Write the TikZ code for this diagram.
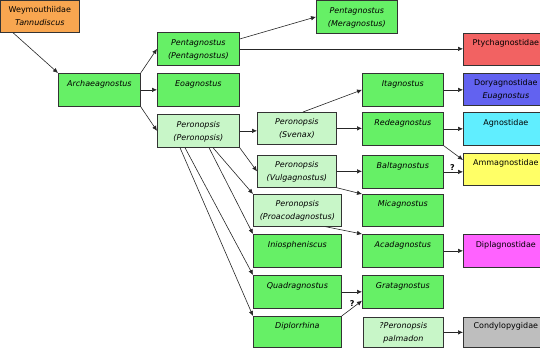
\documentclass[tikz,border=0pt]{standalone}
\usepackage{fontspec}
\setmainfont{DejaVu Sans}
\usetikzlibrary{arrows.meta}
\definecolor{gnbright}{RGB}{102,240,102}
\definecolor{gnlight}{RGB}{200,246,200}
\definecolor{orng}{RGB}{248,166,80}
\definecolor{fred}{RGB}{242,98,98}
\definecolor{fblue}{RGB}{98,98,240}
\definecolor{fcyan}{RGB}{96,238,255}
\definecolor{fyellow}{RGB}{255,255,102}
\definecolor{fmag}{RGB}{255,98,255}
\definecolor{fgray}{RGB}{190,190,190}
% two text lines, set at the top of a box
\newcommand{\tx}[2]{\vbox to 25pt{\hbox{\begin{tabular}[t]{@{}c@{}}#1\\#2\end{tabular}}\vss}}
\begin{document}
\begin{tikzpicture}[x=1pt,y=-1pt,
  every node/.style={font=\fontsize{8}{13}\selectfont},
  bx/.style={draw=black!80,line width=0.7pt,inner sep=0pt,anchor=north west,minimum width=81pt,minimum height=33pt},
  gn/.style={bx,fill=gnbright},
  lg/.style={bx,fill=gnlight},
  fam/.style={bx,minimum width=85pt},
  ar/.style={draw=black!85,line width=0.6pt,-{Latex[length=5pt,width=4.5pt]}},
  qm/.style={font=\fontsize{8}{10}\selectfont\bfseries,inner sep=1pt}]
\useasboundingbox (0,0) rectangle (540,350);
%------------- columns 1 and 2
\node[bx,fill=orng,minimum width=79pt,minimum height=32pt] (wey) at (0,0) {\tx{Weymouthiidae}{\textit{Tannudiscus}}};
\node[gn,minimum width=82pt] (arch) at (58,73) {\tx{\textit{Archaeagnostus}}{}};
%------------- column 3
\node[gn,minimum width=82pt] (penta) at (157,32) {\tx{\textit{Pentagnostus}}{\textit{(Pentagnostus)}}};
\node[gn,minimum width=82pt] (eoag) at (157,73) {\tx{\textit{Eoagnostus}}{}};
\node[lg,minimum width=82pt] (peroP) at (157,114) {\tx{\textit{Peronopsis}}{\textit{(Peronopsis)}}};
%------------- column 4
\node[gn] (mera) at (316,0) {\tx{\textit{Pentagnostus}}{\textit{(Meragnostus)}}};
\node[lg,minimum width=79pt,minimum height=32pt] (svenax) at (257,112) {\tx{\textit{Peronopsis}}{\textit{(Svenax)}}};
\node[lg,minimum width=79pt,minimum height=32pt] (vulg) at (257,155) {\tx{\textit{Peronopsis}}{\textit{(Vulgagnostus)}}};
\node[lg,minimum width=88pt,minimum height=32pt] (proac) at (253,194) {\tx{\textit{Peronopsis}}{\textit{(Proacodagnostus)}}};
\node[gn,minimum width=88pt] (inio) at (253,234) {\tx{\textit{Iniospheniscus}}{}};
\node[gn,minimum width=88pt] (quad) at (253,275) {\tx{\textit{Quadragnostus}}{}};
\node[gn,minimum width=88pt,minimum height=31pt] (dipl) at (253,316) {\tx{\textit{Diplorrhina}}{}};
%------------- column 5
\node[gn] (itag) at (362,73) {\tx{\textit{Itagnostus}}{}};
\node[gn] (redea) at (362,112) {\tx{\textit{Redeagnostus}}{}};
\node[gn] (balt) at (362,155) {\tx{\textit{Baltagnostus}}{}};
\node[gn,minimum height=32pt] (micag) at (362,194) {\tx{\textit{Micagnostus}}{}};
\node[gn] (acad) at (362,234) {\tx{\textit{Acadagnostus}}{}};
\node[gn] (gratag) at (362,275) {\tx{\textit{Gratagnostus}}{}};
\node[lg,minimum width=80pt,minimum height=30pt] (palm) at (363,317) {\tx{\textit{?Peronopsis}}{\textit{palmadon}}};
%------------- families
\node[fam,fill=fred,minimum height=32pt] (ptych) at (463,33) {\tx{Ptychagnostidae}{}};
\node[fam,fill=fblue,minimum height=32pt] (dory) at (463,73) {\tx{Doryagnostidae}{\textit{Euagnostus}}};
\node[fam,fill=fcyan] (agnost) at (463,112) {\tx{Agnostidae}{}};
\node[fam,fill=fyellow,minimum height=32pt] (amma) at (463,153) {\tx{Ammagnostidae}{}};
\node[fam,fill=fmag] (diplag) at (463,234) {\tx{Diplagnostidae}{}};
\node[fam,fill=fgray,minimum height=30pt] (condy) at (463,317) {\tx{Condylopygidae}{}};
%------------- arrows
\draw[ar] ([xshift=13pt]wey.south west) -- (arch.north west);
\draw[ar] (arch.north east) -- (penta.west);
\draw[ar] (arch.east) -- (eoag.west);
\draw[ar] (arch.south east) -- (peroP.west);
\draw[ar] ([yshift=-7pt]penta.north east) -- (mera.west);
\draw[ar] (penta.east) -- (penta.east -| ptych.west);
\draw[ar] (peroP.east) -- (peroP.east -| svenax.west);
\draw[ar] (peroP.south east) -- (vulg.west);
\draw[ar] ([xshift=56pt]peroP.south west) -- (proac.north west);
\draw[ar] ([xshift=52pt]peroP.south west) -- (inio.north west);
\draw[ar] ([xshift=28pt]peroP.south west) -- (quad.north west);
\draw[ar] ([xshift=23pt]peroP.south west) -- (dipl.north west);
\draw[ar] ([xshift=46pt]svenax.north west) -- (itag.west);
\draw[ar] (svenax.east) -- (svenax.east -| redea.west);
\draw[ar] (itag.east) -- (itag.east -| dory.west);
\draw[ar] (redea.east) -- (redea.east -| agnost.west);
\draw[ar] (redea.south east) -- ([yshift=-7pt]amma.north west);
\draw[ar] (balt.east) -- node[qm,above,pos=0.45] {?} (balt.east -| amma.west);
\draw[ar] (vulg.east) -- (vulg.east -| balt.west);
\draw[ar] (vulg.south east) -- (micag.north west);
\draw[ar] ([xshift=-16pt]proac.south east) -- (acad.north west);
\draw[ar] (acad.east) -- (acad.east -| diplag.west);
\draw[ar] (quad.east) -- (quad.east -| gratag.west);
\draw[ar] (dipl.north east) -- node[qm,above,pos=0.52] {?} ([yshift=8pt]gratag.south west);
\draw[ar] (palm.east) -- (palm.east -| condy.west);
\end{tikzpicture}
\end{document}
